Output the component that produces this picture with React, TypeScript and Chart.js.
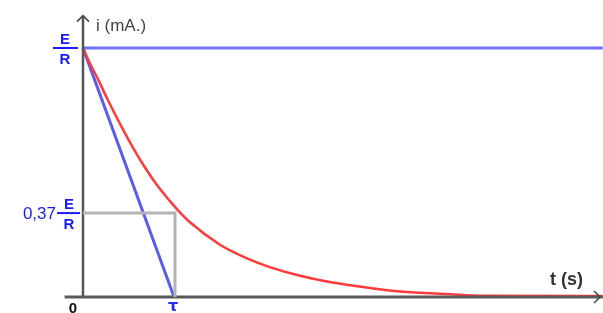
import React, { useEffect, useRef } from "react";
import { Chart, registerables } from "chart.js";

Chart.register(...registerables);

// time in units of tau, current in units of E/R
const redT = [0, 0.054, 0.163, 0.272, 0.424, 0.543, 0.674, 0.804, 0.946, 1.033, 1.163, 1.489, 1.815, 2.03, 2.36, 2.68, 3.12, 3.45, 3.99, 4.32, 5.65];
const redI = [1.0, 0.955, 0.875, 0.79, 0.68, 0.6, 0.52, 0.45, 0.385, 0.348, 0.3, 0.21, 0.15, 0.12, 0.085, 0.06, 0.036, 0.022, 0.011, 0.005, 0.004];
const tangentT = [0, 0.99];
const tangentI = [1, 0];
const asymptoteT = [0, 5.65];
const asymptoteI = [1, 1];
const markT = [0, 1, 1];
const markI = [0.337, 0.337, 0];
const xAxisT = [-0.2, 5.65];
const xAxisI = [0, 0];
const yAxisT = [0, 0];
const yAxisI = [0, 1.13];
const xMin = -0.902;
const xMax = 5.652;
const yMin = -0.0643;
const yMax = 1.1928;

const pts = (xs: number[], ys: number[]) => xs.map((x, i) => ({ x, y: ys[i] }));

const labelPlugin = {
  id: "labels",
  afterDatasetsDraw(chart: any) {
    const ctx = chart.ctx;
    const xs = chart.scales.x;
    const ys = chart.scales.y;
    const px = (v: number) => xs.getPixelForValue(v);
    const py = (v: number) => ys.getPixelForValue(v);
    ctx.save();
    // arrows
    ctx.strokeStyle = "#444";
    ctx.lineWidth = 1.5;
    const ax = px(0), ay = py(1.13);
    ctx.beginPath();
    ctx.moveTo(ax - 6, ay + 6);
    ctx.lineTo(ax, ay);
    ctx.lineTo(ax + 6, ay + 6);
    ctx.stroke();
    const bx = px(5.62), by = py(0);
    ctx.beginPath();
    ctx.moveTo(bx - 6, by - 6);
    ctx.lineTo(bx, by);
    ctx.lineTo(bx - 6, by + 6);
    ctx.stroke();

    const frac = (cx: number, cy: number, x0: number, x1: number) => {
      ctx.fillStyle = "#1a1aff";
      ctx.strokeStyle = "#1a1aff";
      ctx.font = "bold 15px 'Liberation Sans', Arial, sans-serif";
      ctx.textAlign = "center";
      ctx.textBaseline = "alphabetic";
      ctx.fillText("E", cx, cy - 4);
      ctx.fillText("R", cx, cy + 16);
      ctx.lineWidth = 2;
      ctx.beginPath();
      ctx.moveTo(x0, cy);
      ctx.lineTo(x1, cy);
      ctx.stroke();
    };
    frac(65, py(1), 53, 78);
    frac(69, py(0.337), 57, 80);
    ctx.fillStyle = "#1a1aff";
    ctx.font = "17px 'Liberation Sans', Arial, sans-serif";
    ctx.textAlign = "right";
    ctx.textBaseline = "middle";
    ctx.fillText("0,37", 56, py(0.337) + 1);

    ctx.fillStyle = "#111";
    ctx.font = "bold 15px 'Liberation Sans', Arial, sans-serif";
    ctx.textAlign = "center";
    ctx.textBaseline = "top";
    ctx.fillText("0", px(0) - 10, py(0) + 4);
    ctx.fillStyle = "#2a2aff";
    ctx.font = "bold 16px 'DejaVu Sans', sans-serif";
    ctx.fillText("τ", px(1) - 2, py(0) + 2);

    ctx.fillStyle = "#444";
    ctx.font = "17px 'Liberation Sans', Arial, sans-serif";
    ctx.textAlign = "left";
    ctx.textBaseline = "middle";
    ctx.fillText("i (mA.)", 96, 26);
    ctx.fillStyle = "#333";
    ctx.font = "bold 18px 'Liberation Sans', Arial, sans-serif";
    ctx.fillText("t (s)", 550, 280);
    ctx.restore();
  },
};

export default function App() {
  const ref = useRef<HTMLCanvasElement>(null);
  useEffect(() => {
    if (!ref.current) return;
    const chart = new Chart(ref.current, {
      type: "scatter",
      data: {
        datasets: [
          { data: pts(markT, markI), borderColor: "#b4b4b4", borderWidth: 3, showLine: true, pointRadius: 0 },
          { data: pts(xAxisT, xAxisI), borderColor: "#5a5a5a", borderWidth: 3, showLine: true, pointRadius: 0 },
          { data: pts(yAxisT, yAxisI), borderColor: "#555", borderWidth: 2.5, showLine: true, pointRadius: 0 },
          { data: pts(asymptoteT, asymptoteI), borderColor: "#7070f4", borderWidth: 3, showLine: true, pointRadius: 0 },
          { data: pts(redT, redI), borderColor: "#ff3a3a", borderWidth: 2.5, showLine: true, pointRadius: 0, cubicInterpolationMode: "monotone" },
          { data: pts(tangentT, tangentI), borderColor: "#5b5bf0", borderWidth: 3, showLine: true, pointRadius: 0 },
        ],
      },
      options: {
        animation: false,
        responsive: false,
        layout: { padding: 0 },
        plugins: { legend: { display: false }, tooltip: { enabled: false } },
        scales: {
          x: { type: "linear", display: false, min: xMin, max: xMax },
          y: { type: "linear", display: false, min: yMin, max: yMax },
        },
      },
      plugins: [labelPlugin],
    });
    return () => chart.destroy();
  }, []);
  return (
    <div style={{ position: "fixed", left: 0, top: 0, width: 603, height: 313, background: "#fff" }}>
      <canvas ref={ref} width={603} height={313} />
    </div>
  );
}
